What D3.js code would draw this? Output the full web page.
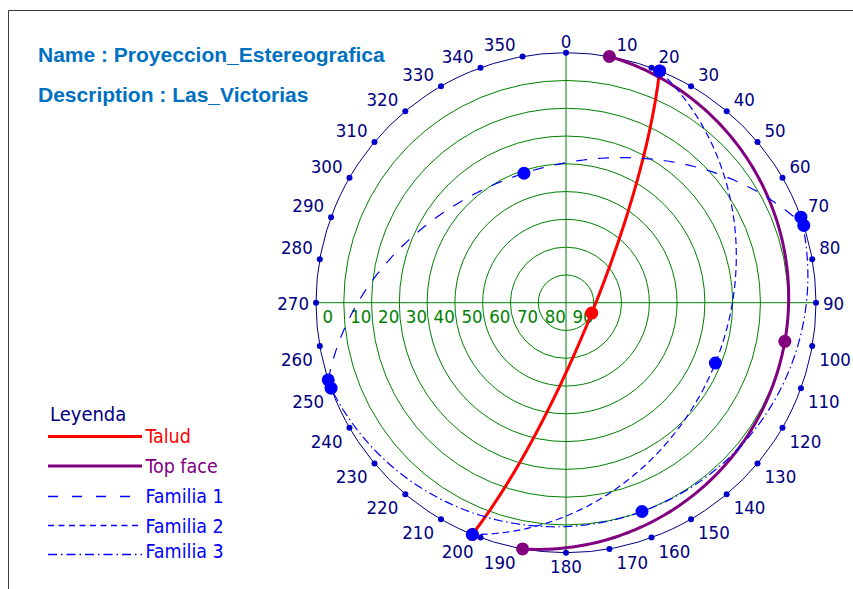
<!DOCTYPE html>
<html>
<head>
<meta charset="utf-8">
<script src="https://cdn.jsdelivr.net/npm/d3@7"></script>
<style>
  html, body { margin: 0; padding: 0; background: #ffffff; }
  svg { display: block; }
  .cond { font-family: "DejaVu Sans Condensed", "DejaVu Sans", sans-serif; font-stretch: condensed; }
</style>
</head>
<body>
<svg id="chart" width="853" height="589"></svg>
<script>
// Planes plotted on the net: dip direction and dip (degrees)
const planeNames    = ["Talud", "Top face", "Familia 1", "Familia 2", "Familia 3"];
const dipDirections = [112, 100, 342, 112, 160];
const dips          = [80, 10, 41, 32, 10];

// Net graduation
const azimuthTicks = d3.range(0, 360, 10);          // 0 … 350
const dipTicks     = [0, 10, 20, 30, 40, 50, 60, 70, 80, 90];

// Header text
const titleLines = ["Name : Proyeccion_Estereografica", "Description : Las_Victorias"];
const legendTitle = "Leyenda";

// Styles for each plane
const planeColors = ["#ff0000", "#800080", "#0000ff", "#0000ff", "#0000ff"];
const planeWidths = [3, 3, 1.2, 1.2, 1.2];
const legendWidths = [3, 3, 1.5, 1.5, 1.5];
const planeDashes = [null, null, "11,11", "7,4", "9,3.5,1.5,3.5"];
const legendDashes = [null, null, "10,14", "6,4.5", "9,4,1.5,4"];

const svg = d3.select("#chart");
const cx = 566, cy = 302.7, R = 250;

// Radius of a point from its plunge: 90° at centre, 0° at rim
const rScale = d3.scaleLinear().domain([90, 0]).range([0, R]);
const rad = d => d * Math.PI / 180;
function pos(az, plunge) {
  const r = rScale(plunge);
  return [cx + r * Math.sin(rad(az)), cy - r * Math.cos(rad(az))];
}

// Frame
svg.append("path")
  .attr("d", "M8.5,589 V10.5 H853")
  .attr("fill", "none").attr("stroke", "#3a3a3a").attr("stroke-width", 1);

// Green grid: dip circles and the two diameters
const grid = svg.append("g").attr("stroke", "#008000").attr("fill", "none").attr("stroke-width", 1);
grid.selectAll("circle")
  .data(dipTicks.filter(d => d > 0 && d < 90))
  .join("circle")
  .attr("cx", cx).attr("cy", cy).attr("r", d => rScale(d));
grid.append("line").attr("x1", cx - R).attr("x2", cx + R).attr("y1", cy).attr("y2", cy);
grid.append("line").attr("x1", cx).attr("x2", cx).attr("y1", cy - R).attr("y2", cy + R);

// Dip labels along the west radius
svg.append("g").attr("class", "cond")
  .selectAll("text")
  .data(dipTicks)
  .join("text")
  .attr("x", d => pos(270, d)[0] + 6.5)
  .attr("y", cy + 20.5)
  .attr("fill", "#008000")
  .attr("font-size", 18.5)
  .text(d => d);

// Outer circle with azimuth dots
svg.append("circle")
  .attr("cx", cx).attr("cy", cy).attr("r", rScale(0))
  .attr("fill", "none").attr("stroke", "#000080").attr("stroke-width", 1);
svg.append("g").selectAll("circle")
  .data(azimuthTicks)
  .join("circle")
  .attr("cx", d => pos(d, 0)[0]).attr("cy", d => pos(d, 0)[1])
  .attr("r", 3).attr("fill", "#0000c8");

// Azimuth labels, anchored by quadrant
function labelPlacement(az) {
  const [x, y] = pos(az, 0);
  let anchor, tx, ty;
  if (az === 0 || az === 180) { anchor = "middle"; tx = x; }
  else if (az < 180) { anchor = "start"; tx = x + 7; }
  else { anchor = "end"; tx = x - 7; }
  if (az === 90 || az === 270) ty = y + 7;
  else if (az > 90 && az < 270) ty = y + 20;
  else ty = y - 5;
  return { anchor, tx, ty };
}
svg.append("g").attr("class", "cond")
  .selectAll("text")
  .data(azimuthTicks)
  .join("text")
  .each(function (d) {
    const p = labelPlacement(d);
    d3.select(this).attr("x", p.tx).attr("y", p.ty).attr("text-anchor", p.anchor);
  })
  .attr("fill", "#000080")
  .attr("font-size", 18.5)
  .text(d => d);

// Great circles of the planes
const line = d3.line();
function planePath(dd, dip) {
  const pts = d3.range(-90, 90.5, 1).map(b => {
    const plunge = Math.atan(Math.tan(rad(dip)) * Math.cos(rad(b))) * 180 / Math.PI;
    return pos(dd + b, plunge);
  });
  return line(pts);
}
const planes = svg.append("g");
planeNames.forEach((name, i) => {
  planes.append("path")
    .attr("d", planePath(dipDirections[i], dips[i]))
    .attr("fill", "none")
    .attr("stroke", planeColors[i])
    .attr("stroke-width", planeWidths[i])
    .attr("stroke-dasharray", planeDashes[i]);
});

// Strike ends and dip vector of each plane
const dots = svg.append("g");
planeNames.forEach((name, i) => {
  const dd = dipDirections[i];
  const marks = [pos(dd - 90, 0), pos(dd + 90, 0), pos(dd, dips[i])];
  dots.selectAll(null).data(marks).join("circle")
    .attr("cx", d => d[0]).attr("cy", d => d[1])
    .attr("r", 6.5).attr("fill", planeColors[i]);
});

// Header
svg.append("g").selectAll("text")
  .data(titleLines)
  .join("text")
  .attr("x", 38)
  .attr("y", (d, i) => 61.5 + i * 40)
  .attr("font-family", "'Liberation Sans', Arial, sans-serif")
  .attr("font-weight", "bold")
  .attr("font-size", 21)
  .attr("fill", "#0070c0")
  .text(d => d);

// Legend
const legend = svg.append("g").attr("class", "cond");
legend.append("text")
  .attr("x", 50).attr("y", 420.7)
  .attr("fill", "#000080").attr("font-size", 20)
  .text(legendTitle);
const legendLineY = [436.5, 466, 496.5, 525.5, 554.5];
const legendTextY = [442.7, 473.3, 503.3, 532.7, 557.7];
planeNames.forEach((name, i) => {
  legend.append("line")
    .attr("x1", 48).attr("x2", 142)
    .attr("y1", legendLineY[i]).attr("y2", legendLineY[i])
    .attr("stroke", planeColors[i])
    .attr("stroke-width", legendWidths[i])
    .attr("stroke-dasharray", legendDashes[i]);
  legend.append("text")
    .attr("x", 145.5).attr("y", legendTextY[i])
    .attr("fill", planeColors[i]).attr("font-size", 19.5)
    .text(name);
});
</script>
</body>
</html>
